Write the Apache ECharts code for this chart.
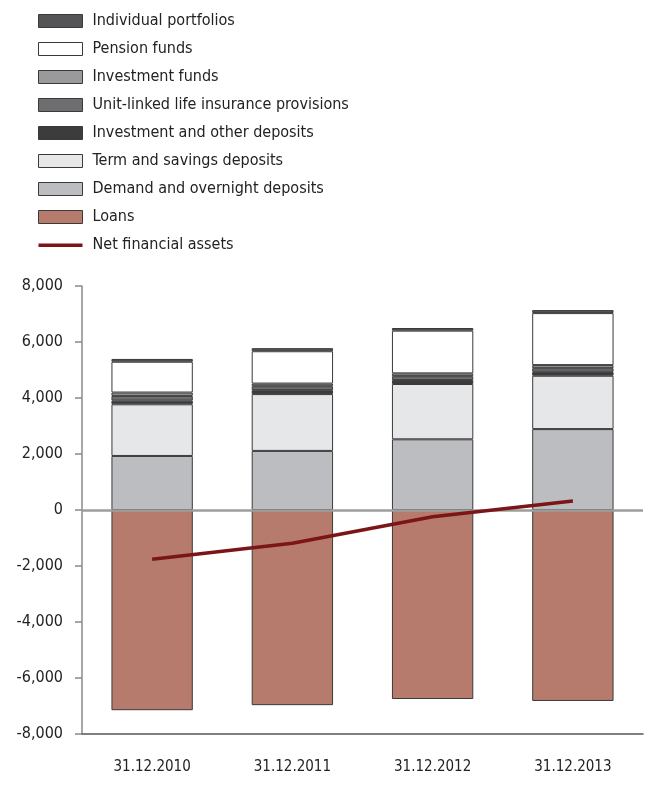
<!DOCTYPE html>
<html>
<head>
<meta charset="utf-8">
<script src="https://cdn.jsdelivr.net/npm/echarts@6/dist/echarts.min.js"></script>
<style>
html,body{margin:0;padding:0;background:#fff;}
#chart{width:646px;height:789px;}
</style>
</head>
<body>
<div id="chart"></div>
<script>
var categories = ['31.12.2010', '31.12.2011', '31.12.2012', '31.12.2013'];
var demandDeposits = [1930, 2110, 2525, 2890];
var termDeposits = [1845, 2030, 1975, 1905];
var investmentOtherDeposits = [130, 140, 140, 140];
var unitLinked = [170, 140, 140, 130];
var investmentFunds = [120, 95, 100, 110];
var pensionFunds = [1100, 1155, 1525, 1857];
var individualPortfolios = [100, 110, 95, 107];
var loans = [-7150, -6970, -6750, -6820];
var netFinancialAssets = [-1760, -1190, -240, 320];
var yTicks = { min: -8000, max: 8000, interval: 2000 };

var FONT = '"DejaVu Sans Condensed", "Liberation Sans Narrow", "Liberation Sans", sans-serif';
var LINE_COLOR = '#7b1518';
var chart = echarts.init(document.getElementById('chart'), null, { renderer: 'canvas' });

function bar(name, data, color, extra) {
  var s = {
    name: name, type: 'bar', stack: 'total', data: data, barWidth: '58%',
    itemStyle: { color: color, borderColor: '#3a3a3a', borderWidth: 1 },
    emphasis: { disabled: true }
  };
  if (extra) { for (var k in extra) s[k] = extra[k]; }
  return s;
}

var series = [
  bar('Demand and overnight deposits', demandDeposits, '#bcbdc0', {
    markLine: {
      silent: true, symbol: 'none', label: { show: false },
      lineStyle: { color: '#9d9d9d', width: 2.5, type: 'solid' },
      data: [{ yAxis: 0 }]
    }
  }),
  bar('Term and savings deposits', termDeposits, '#e6e7e8'),
  bar('Investment and other deposits', investmentOtherDeposits, '#3c3c3c'),
  bar('Unit-linked life insurance provisions', unitLinked, '#6e6e70'),
  bar('Investment funds', investmentFunds, '#9a9a9c'),
  bar('Pension funds', pensionFunds, '#ffffff'),
  bar('Individual portfolios', individualPortfolios, '#555557'),
  bar('Loans', loans, '#b77b6e'),
  {
    name: 'Net financial assets', type: 'line', data: netFinancialAssets,
    symbol: 'none', showSymbol: false,
    lineStyle: { color: LINE_COLOR, width: 3.5 },
    itemStyle: { color: LINE_COLOR },
    emphasis: { disabled: true }, z: 5
  }
];

chart.setOption({
  animation: false,
  backgroundColor: '#fff',
  legend: {
    orient: 'vertical', left: 38, top: 13, padding: 0,
    itemWidth: 44, itemHeight: 13, itemGap: 12, icon: 'rect',
    itemStyle: { borderColor: '#3a3a3a', borderWidth: 1 },
    textStyle: { fontFamily: FONT, fontSize: 16, lineHeight: 16, color: '#222', padding: [0, 0, 0, 5] },
    data: [
      'Individual portfolios', 'Pension funds', 'Investment funds',
      'Unit-linked life insurance provisions', 'Investment and other deposits',
      'Term and savings deposits', 'Demand and overnight deposits', 'Loans',
      { name: 'Net financial assets', icon: 'path://M0,0 M0,5 L44,5 L44,8.5 L0,8.5 Z M44,13',
        itemStyle: { color: LINE_COLOR, borderWidth: 0 } }
    ],
    selectedMode: false
  },
  grid: { left: 82, right: 3, top: 286, bottom: 55, containLabel: false },
  xAxis: {
    type: 'category', data: categories, boundaryGap: true,
    axisLine: { onZero: false, lineStyle: { color: '#555', width: 1.5 } },
    axisTick: { show: false },
    axisLabel: { fontFamily: FONT, fontSize: 15, color: '#222', margin: 26 }
  },
  yAxis: {
    type: 'value', min: yTicks.min, max: yTicks.max, interval: yTicks.interval,
    axisLine: { show: true, lineStyle: { color: '#8a8a8a', width: 1.5 } },
    axisTick: { show: true, length: 7, lineStyle: { color: '#8a8a8a', width: 1.5 } },
    splitLine: { show: false },
    axisLabel: {
      fontFamily: FONT, fontSize: 16, color: '#222', margin: 19,
      formatter: function (v) { return echarts.format.addCommas(v); }
    }
  },
  series: series
});
</script>
</body>
</html>
